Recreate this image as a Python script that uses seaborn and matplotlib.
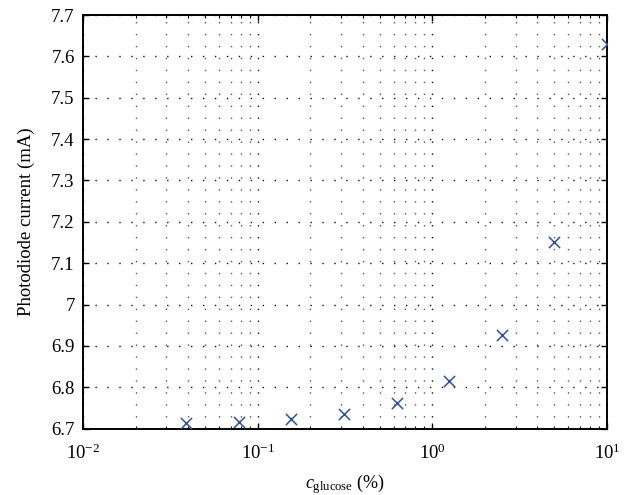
import numpy as np
import pandas as pd
import matplotlib
matplotlib.use("Agg")
import matplotlib.pyplot as plt
import matplotlib.ticker as mticker
import seaborn as sns

# Glucose concentration (%), two-fold dilution series
concentration = [0.039, 0.078, 0.156, 0.3125, 0.625, 1.25, 2.5, 5.0, 10.0]
# Measured photodiode current (mA)
current = [6.714, 6.716, 6.723, 6.736, 6.762, 6.816, 6.927, 7.152, 7.630]

y_ticks = [6.7, 6.8, 6.9, 7.0, 7.1, 7.2, 7.3, 7.4, 7.5, 7.6, 7.7]

df = pd.DataFrame({"c": concentration, "I": current})

sns.set_theme(style="white")
plt.rcParams["font.family"] = ["Liberation Serif", "DejaVu Serif"]
plt.rcParams["mathtext.fontset"] = "custom"
plt.rcParams["mathtext.rm"] = "Liberation Serif"
plt.rcParams["mathtext.it"] = "Liberation Serif:italic"
plt.rcParams["mathtext.bf"] = "Liberation Serif:bold"

fig = plt.figure(figsize=(6.35, 4.95), dpi=100)
ax = fig.add_axes([83 / 635, 1 - 428.7 / 495, (607 - 83) / 635, (428.7 - 15) / 495])

sns.scatterplot(data=df, x="c", y="I", marker="x", s=65, color="#2f4fb0",
                linewidth=1.1, ax=ax, zorder=3)

ax.set_xscale("log")
ax.set_xlim(1e-2, 1e1)
ax.set_ylim(6.7, 7.7)
ax.set_yticks(y_ticks)
ax.yaxis.set_major_formatter(mticker.FuncFormatter(lambda v, p: f"{v:g}"))
ax.xaxis.set_major_locator(mticker.LogLocator(base=10, numticks=10))
ax.xaxis.set_minor_locator(mticker.LogLocator(base=10, subs=np.arange(2, 10), numticks=20))
ax.xaxis.set_minor_formatter(mticker.NullFormatter())
ax.xaxis.set_major_formatter(mticker.LogFormatterSciNotation())

dots = (0, (1, 7.6))
ax.grid(which="major", axis="both", linestyle=dots, color="#111111", linewidth=1.0)
ax.grid(which="minor", axis="x", linestyle=dots, color="#555555", linewidth=1.0)

for s in ax.spines.values():
    s.set_visible(True)
    s.set_color("black")
    s.set_linewidth(1.4)

ax.tick_params(which="major", direction="in", length=4, width=1.0, color="black",
               top=True, right=True, bottom=True, left=True, labelsize=13.5,
               labelcolor="black", pad=6)
ax.tick_params(axis="x", which="major", pad=11)
ax.tick_params(which="minor", direction="in", length=2.5, width=0.8, color="black",
               top=True, bottom=True)

ax.set_xlabel(r"$c_{\mathrm{glucose}}$ (%)", fontsize=13, color="black", labelpad=6)
ax.set_ylabel("Photodiode current (mA)", fontsize=13.5, color="black", labelpad=12)

fig.savefig("out.png", dpi=100)
